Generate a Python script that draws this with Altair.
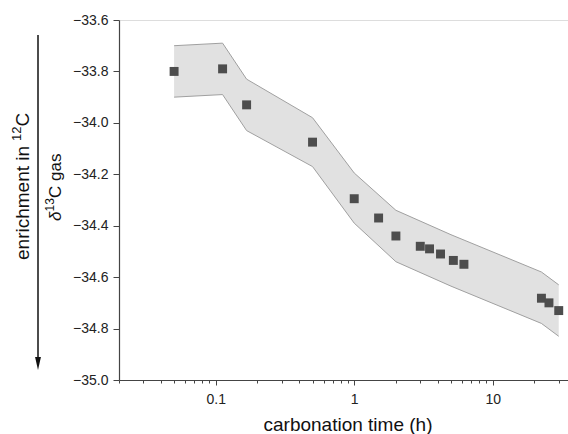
import altair as alt
import pandas as pd

# measured data (carbonation time in h, delta13C gas)
times = [0.05, 0.112, 0.167, 0.5, 1.0, 1.5, 2.0, 3.0, 3.5, 4.2, 5.2, 6.2, 22.5, 25.5, 30.0]
delta = [-33.80, -33.79, -33.93, -34.075, -34.295, -34.37, -34.44, -34.48, -34.49,
         -34.51, -34.535, -34.55, -34.682, -34.70, -34.73]

# uncertainty band vertices
band_t = [0.05, 0.112, 0.167, 0.5, 1.0, 2.0, 5.0, 22.5, 30.0]
band_hi = [-33.70, -33.69, -33.83, -33.98, -34.195, -34.34, -34.435, -34.58, -34.63]
band_lo = [-33.90, -33.89, -34.03, -34.17, -34.39, -34.54, -34.635, -34.78, -34.83]

x_ticks = [0.02, 0.03, 0.04, 0.05, 0.06, 0.07, 0.08, 0.09,
           0.1, 0.2, 0.3, 0.4, 0.5, 0.6, 0.7, 0.8, 0.9,
           1, 2, 3, 4, 5, 6, 7, 8, 9, 10, 20, 30]
y_ticks = [-35.0, -34.9, -34.8, -34.7, -34.6, -34.5, -34.4, -34.3, -34.2,
           -34.1, -34.0, -33.9, -33.8, -33.7, -33.6]

FONT = "Liberation Sans"
W, H = 449, 360

pts = pd.DataFrame({"t": times, "d": delta})
band = pd.DataFrame({"t": band_t, "hi": band_hi, "lo": band_lo})

x_major = "abs(log(datum.value)/LN10 - round(log(datum.value)/LN10)) < 0.001"
y_major = "abs(round(datum.value*10)) % 2 == 0"

xscale = alt.Scale(type="log", domain=[0.02, 35], nice=False)
yscale = alt.Scale(domain=[-35.0, -33.6], nice=False, zero=False)

xaxis = alt.Axis(
    values=x_ticks, title=None, grid=False,
    labelExpr=f"({x_major}) ? format(datum.value, '~g') : ''",
    labelOverlap=False, labelFont=FONT, labelFontSize=14, labelColor="#222",
    labelPadding=7,
    tickSize={"condition": {"test": x_major, "value": 5}, "value": 3},
    tickColor="#444", domainColor="#444", tickWidth=1, domainWidth=1.2,
)
yaxis = alt.Axis(
    values=y_ticks, title=None, grid=False,
    labelExpr=f"({y_major}) ? format(datum.value, '.1f') : ''",
    labelOverlap=False, labelFont=FONT, labelFontSize=14, labelColor="#222",
    labelPadding=5,
    tickSize={"condition": {"test": y_major, "value": 6}, "value": 3},
    tickColor="#444", domainColor="#444", tickWidth=1, domainWidth=1.2,
)

area = alt.Chart(band).mark_area(color="#e1e1e1", opacity=1).encode(
    x=alt.X("t:Q", scale=xscale, axis=xaxis),
    y=alt.Y("hi:Q", scale=yscale, axis=yaxis),
    y2="lo:Q",
)
edge_hi = alt.Chart(band).mark_line(color="#a0a0a0", strokeWidth=1).encode(
    x="t:Q", y="hi:Q")
edge_lo = alt.Chart(band).mark_line(color="#a0a0a0", strokeWidth=1).encode(
    x="t:Q", y="lo:Q")
points = alt.Chart(pts).mark_point(shape="square", filled=True, size=80,
                                   color="#4d4d4d", opacity=1).encode(
    x="t:Q", y="d:Q")

one = pd.DataFrame({"a": [0]})


def label(text, x, y, size, angle=0, align="center", baseline="middle", style="normal"):
    return alt.Chart(one).mark_text(
        text=text, font=FONT, fontSize=size, color="#111", angle=angle,
        align=align, baseline=baseline, fontStyle=style,
    ).encode(x=alt.value(x), y=alt.value(y))


texts = [
    label("carbonation time (h)", 229, 411, 19, baseline="alphabetic"),
    # delta13C gas (rotated)
    label("δ", -63, 201, 17, angle=270, align="left", style="italic"),
    label("13", -69, 191.5, 12, angle=270, align="left"),
    label("C gas", -63, 178, 17, angle=270, align="left"),
    # enrichment in 12C (rotated)
    label("enrichment in", -96, 240, 19, angle=270, align="left"),
    label("12", -102, 121, 13, angle=270, align="left"),
    label("C", -96, 106.5, 19, angle=270, align="left"),
]

arrow_line = alt.Chart(one).mark_rule(color="#111", strokeWidth=1.5).encode(
    x=alt.value(-81), y=alt.value(15), y2=alt.value(340))
arrow_head = alt.Chart(one).mark_point(shape="M-0.45,-1L0.45,-1L0,1Z", filled=True,
                                       size=169, color="#111", opacity=1).encode(
    x=alt.value(-81), y=alt.value(343.5))

chart = alt.layer(area, edge_hi, edge_lo, points, *texts,
                  arrow_line, arrow_head).properties(
    width=W, height=H,
    autosize=alt.AutoSizeParams(type="none"),
    padding={"left": 119, "top": 20, "right": 0, "bottom": 54},
).configure_view(stroke=None).configure(background="white")

chart.save("out.html", embed_options={"renderer": "svg", "actions": False})
